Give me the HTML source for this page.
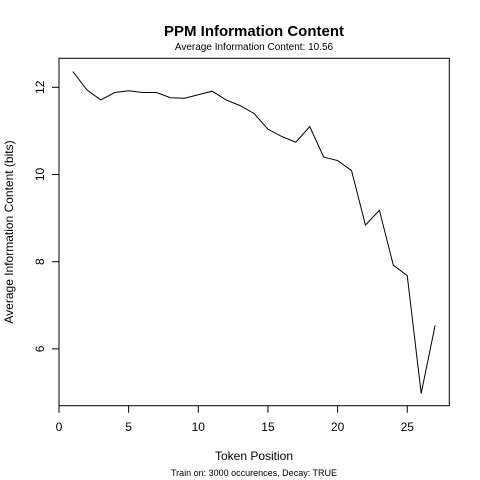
<!DOCTYPE html>
<html><head><meta charset="utf-8"><style>
body{margin:0;background:#fff}
svg{display:block;font-family:"Liberation Sans",sans-serif}
</style></head><body>
<svg id="c" width="480" height="480" viewBox="0 0 480 480">
<rect width="480" height="480" fill="#fff"/>
<text x="254" y="36" text-anchor="middle" font-size="15" font-weight="bold">PPM Information Content</text>
<text x="254" y="50" text-anchor="middle" font-size="10">Average Information Content: 10.56</text>
<text x="254" y="460" text-anchor="middle" font-size="12">Token Position</text>
<text transform="translate(13,232) rotate(-90)" text-anchor="middle" font-size="12">Average Information Content (bits)</text>
<text x="254" y="476" text-anchor="middle" font-size="9">Train on: 3000 occurences, Decay: TRUE</text>
<rect x="59" y="58.3" width="390.3" height="347.4" fill="none" stroke="#000" stroke-width="1"/>
<g id="axes"></g>
<path id="line" fill="none" stroke="#000" stroke-width="1"/>
</svg>
<script>
const positions=[1,2,3,4,5,6,7,8,9,10,11,12,13,14,15,16,17,18,19,20,21,22,23,24,25,26,27];
const infoValues=[12.36,11.94,11.71,11.88,11.92,11.88,11.88,11.76,11.75,11.83,11.91,11.71,11.58,11.40,11.04,10.87,10.74,11.10,10.40,10.32,10.09,8.84,9.18,7.92,7.68,4.98,6.54];
const xTicks=[0,5,10,15,20,25];
const yTicks=[6,8,10,12];
function sx(v){return 59+13.93*v;}
function sy(v){return 87.3+(12-v)*43.6;}
const ns="http://www.w3.org/2000/svg";
const g=document.getElementById('axes');
function mk(t,a){const e=document.createElementNS(ns,t);for(const k in a)e.setAttribute(k,a[k]);g.appendChild(e);return e;}
xTicks.forEach(t=>{
 const x=sx(t);
 const l=mk('line',{x1:x,x2:x,y1:405.7,y2:412.7,stroke:'#000'});
 
 
 const tx=mk('text',{x:x,y:431,'text-anchor':'middle','font-size':12});
 tx.textContent=t;
 
 
});
yTicks.forEach(t=>{
 const y=sy(t);
 const l=mk('line',{x1:52,x2:59,y1:y,y2:y,stroke:'#000'});
 
 
 const tx=mk('text',{transform:`translate(44,${y}) rotate(-90)`,'text-anchor':'middle','font-size':12});
 tx.textContent=t;
 
 
});
document.getElementById('line').setAttribute('d',positions.map((p,i)=>(i?'L':'M')+sx(p)+','+sy(infoValues[i])).join(' '));
</script>
</body></html>
